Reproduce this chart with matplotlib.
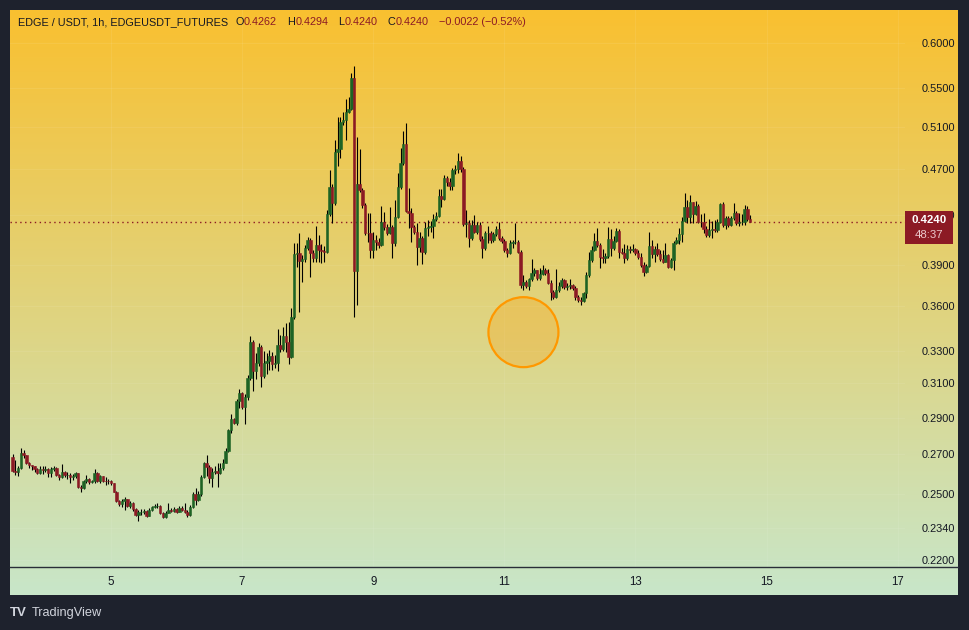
import numpy as np
import pandas as pd
import matplotlib
matplotlib.use("Agg")
import matplotlib.pyplot as plt
import matplotlib.dates as mdates
from matplotlib.colors import LinearSegmentedColormap
from matplotlib.lines import Line2D
from matplotlib.patches import Rectangle, Circle
from matplotlib.ticker import FixedLocator, FuncFormatter, NullLocator
from matplotlib.transforms import IdentityTransform

# EDGE / USDT perpetual, 1h candles, first bar on the 3rd at 12:00
start = "2025-06-03 12:00"
open0 = 0.2688
close = [
    0.2616, 0.2611, 0.2629, 0.2706, 0.2697, 0.2657, 0.2646, 0.2640, 0.2624, 0.2606,
    0.2624, 0.2620, 0.2627, 0.2603, 0.2624, 0.2629, 0.2595, 0.2584, 0.2611, 0.2595,
    0.2595, 0.2584, 0.2587, 0.2603, 0.2534, 0.2529, 0.2562, 0.2574, 0.2557, 0.2562,
    0.2603, 0.2562, 0.2587, 0.2566, 0.2565, 0.2562, 0.2553, 0.2512, 0.2468, 0.2452,
    0.2468, 0.2476, 0.2443, 0.2455, 0.2427, 0.2400, 0.2413, 0.2413, 0.2419, 0.2397,
    0.2424, 0.2437, 0.2443, 0.2443, 0.2408, 0.2390, 0.2411, 0.2424, 0.2421, 0.2427,
    0.2416, 0.2432, 0.2424, 0.2416, 0.2400, 0.2437, 0.2500, 0.2471, 0.2500, 0.2584,
    0.2654, 0.2637, 0.2580, 0.2611, 0.2615, 0.2606, 0.2629, 0.2657, 0.2719, 0.2831,
    0.2891, 0.2869, 0.2995, 0.3042, 0.2962, 0.3020, 0.3132, 0.3361, 0.3177, 0.3226,
    0.3328, 0.3144, 0.3226, 0.3237, 0.3269, 0.3218, 0.3222, 0.3339, 0.3311, 0.3398,
    0.3361, 0.3264, 0.3526, 0.3984, 0.3990, 0.3932, 0.3943, 0.4028, 0.4094, 0.3994,
    0.3951, 0.4054, 0.4015, 0.4010, 0.4002, 0.4306, 0.4540, 0.4396, 0.4859, 0.4882,
    0.5150, 0.5167, 0.5251, 0.5275, 0.5603, 0.3857, 0.4564, 0.4511, 0.4381, 0.4152,
    0.4147, 0.4015, 0.4094, 0.4078, 0.4054, 0.4242, 0.4201, 0.4152, 0.4196, 0.4068,
    0.4284, 0.4535, 0.4756, 0.4932, 0.4333, 0.4316, 0.4201, 0.4160, 0.4041, 0.4110,
    0.4002, 0.4188, 0.4199, 0.4207, 0.4262, 0.4289, 0.4459, 0.4430, 0.4614, 0.4581,
    0.4546, 0.4689, 0.4695, 0.4775, 0.4695, 0.4223, 0.4234, 0.4107, 0.4215, 0.4160,
    0.4215, 0.4099, 0.4028, 0.4147, 0.4147, 0.4094, 0.4142, 0.4180, 0.4112, 0.4088,
    0.4015, 0.3990, 0.4073, 0.4081, 0.4081, 0.4002, 0.3751, 0.3776, 0.3744, 0.3793,
    0.3840, 0.3862, 0.3801, 0.3833, 0.3862, 0.3838, 0.3768, 0.3703, 0.3664, 0.3715,
    0.3744, 0.3788, 0.3735, 0.3744, 0.3751, 0.3727, 0.3668, 0.3644, 0.3639, 0.3691,
    0.3825, 0.3938, 0.4015, 0.4088, 0.4054, 0.3963, 0.3951, 0.3969, 0.4099, 0.4028,
    0.4088, 0.4168, 0.4002, 0.3994, 0.3951, 0.4020, 0.4015, 0.4020, 0.3994, 0.3959,
    0.3900, 0.3850, 0.3892, 0.4046, 0.3984, 0.4023, 0.3984, 0.3943, 0.3925, 0.3976,
    0.3887, 0.3938, 0.4070, 0.4094, 0.4142, 0.4250, 0.4362, 0.4279, 0.4410, 0.4306,
    0.4373, 0.4242, 0.4239, 0.4180, 0.4134, 0.4174, 0.4180, 0.4174, 0.4242, 0.4390,
    0.4215, 0.4270, 0.4215, 0.4270, 0.4316, 0.4229, 0.4235, 0.4239, 0.4345, 0.4262,
    0.4240,
]
high = [
    0.2702, 0.2671, 0.2640, 0.2734, 0.2723, 0.2697, 0.2661, 0.2646, 0.2640, 0.2630,
    0.2640, 0.2640, 0.2640, 0.2630, 0.2635, 0.2640, 0.2635, 0.2600, 0.2651, 0.2615,
    0.2610, 0.2605, 0.2600, 0.2610, 0.2605, 0.2545, 0.2570, 0.2595, 0.2580, 0.2570,
    0.2625, 0.2610, 0.2595, 0.2590, 0.2585, 0.2575, 0.2570, 0.2555, 0.2515, 0.2471,
    0.2476, 0.2486, 0.2476, 0.2466, 0.2461, 0.2433, 0.2424, 0.2429, 0.2429, 0.2424,
    0.2433, 0.2443, 0.2452, 0.2457, 0.2447, 0.2414, 0.2419, 0.2458, 0.2433, 0.2438,
    0.2433, 0.2443, 0.2443, 0.2458, 0.2424, 0.2447, 0.2510, 0.2530, 0.2515, 0.2595,
    0.2661, 0.2697, 0.2646, 0.2630, 0.2640, 0.2656, 0.2656, 0.2676, 0.2734, 0.2837,
    0.2921, 0.2898, 0.3007, 0.3066, 0.3048, 0.3036, 0.3150, 0.3398, 0.3372, 0.3288,
    0.3350, 0.3339, 0.3303, 0.3288, 0.3307, 0.3294, 0.3275, 0.3447, 0.3405, 0.3460,
    0.3487, 0.3493, 0.3586, 0.4073, 0.4068, 0.4147, 0.3976, 0.4054, 0.4120, 0.4110,
    0.4015, 0.4207, 0.4134, 0.4062, 0.4046, 0.4339, 0.4689, 0.4564, 0.4971, 0.5200,
    0.5200, 0.5248, 0.5379, 0.5407, 0.5657, 0.5738, 0.5003, 0.4882, 0.4529, 0.4398,
    0.4311, 0.4316, 0.4160, 0.4134, 0.4110, 0.4373, 0.4325, 0.4223, 0.4367, 0.4215,
    0.4424, 0.4659, 0.4891, 0.5061, 0.5140, 0.4526, 0.4356, 0.4215, 0.4229, 0.4158,
    0.4126, 0.4239, 0.4256, 0.4248, 0.4306, 0.4322, 0.4517, 0.4517, 0.4644, 0.4635,
    0.4617, 0.4707, 0.4735, 0.4844, 0.4819, 0.4717, 0.4339, 0.4256, 0.4256, 0.4297,
    0.4239, 0.4239, 0.4126, 0.4166, 0.4207, 0.4166, 0.4158, 0.4207, 0.4242, 0.4126,
    0.4102, 0.4031, 0.4094, 0.4094, 0.4229, 0.4094, 0.4015, 0.3825, 0.3788, 0.3803,
    0.3943, 0.3877, 0.3862, 0.3877, 0.3900, 0.3877, 0.3867, 0.3788, 0.3715, 0.3867,
    0.3773, 0.3801, 0.3796, 0.3766, 0.3793, 0.3759, 0.3744, 0.3680, 0.3666, 0.3701,
    0.3850, 0.4002, 0.4046, 0.4147, 0.4188, 0.4070, 0.4020, 0.3992, 0.4196, 0.4180,
    0.4126, 0.4191, 0.4183, 0.4031, 0.4062, 0.4054, 0.4046, 0.4062, 0.4031, 0.4015,
    0.3992, 0.3923, 0.3907, 0.4160, 0.4094, 0.4046, 0.4073, 0.4015, 0.4015, 0.4073,
    0.3984, 0.3953, 0.4086, 0.4120, 0.4188, 0.4279, 0.4487, 0.4424, 0.4468, 0.4410,
    0.4418, 0.4390, 0.4306, 0.4316, 0.4207, 0.4262, 0.4250, 0.4256, 0.4264, 0.4396,
    0.4407, 0.4289, 0.4289, 0.4289, 0.4401, 0.4330, 0.4311, 0.4306, 0.4381, 0.4373,
    0.4294,
]
low = [
    0.2610, 0.2595, 0.2590, 0.2625, 0.2681, 0.2651, 0.2630, 0.2620, 0.2610, 0.2600,
    0.2600, 0.2600, 0.2610, 0.2585, 0.2585, 0.2615, 0.2590, 0.2570, 0.2580, 0.2585,
    0.2575, 0.2555, 0.2570, 0.2580, 0.2530, 0.2512, 0.2525, 0.2555, 0.2550, 0.2555,
    0.2555, 0.2560, 0.2555, 0.2560, 0.2545, 0.2550, 0.2545, 0.2510, 0.2462, 0.2443,
    0.2440, 0.2424, 0.2438, 0.2433, 0.2419, 0.2395, 0.2374, 0.2400, 0.2405, 0.2391,
    0.2395, 0.2419, 0.2433, 0.2433, 0.2405, 0.2386, 0.2386, 0.2410, 0.2414, 0.2414,
    0.2410, 0.2414, 0.2419, 0.2410, 0.2390, 0.2395, 0.2433, 0.2447, 0.2466, 0.2491,
    0.2580, 0.2587, 0.2555, 0.2535, 0.2600, 0.2535, 0.2600, 0.2620, 0.2656, 0.2713,
    0.2816, 0.2865, 0.2861, 0.2955, 0.2949, 0.2865, 0.3001, 0.3120, 0.3056, 0.3126,
    0.3206, 0.3076, 0.3132, 0.3156, 0.3181, 0.3181, 0.3193, 0.3177, 0.3296, 0.3301,
    0.3296, 0.3218, 0.3256, 0.3512, 0.3887, 0.3562, 0.3776, 0.3923, 0.4015, 0.3812,
    0.3923, 0.3923, 0.3925, 0.3915, 0.3923, 0.3992, 0.4289, 0.4229, 0.4381, 0.4725,
    0.4797, 0.5117, 0.4971, 0.5238, 0.5268, 0.3528, 0.3609, 0.4494, 0.4356, 0.4134,
    0.4081, 0.3951, 0.3951, 0.4015, 0.4031, 0.4046, 0.4174, 0.4134, 0.4142, 0.3951,
    0.4046, 0.4272, 0.4520, 0.4735, 0.4322, 0.4188, 0.4081, 0.4142, 0.3900, 0.3999,
    0.3907, 0.3984, 0.4126, 0.4158, 0.4108, 0.4248, 0.4279, 0.4367, 0.4424, 0.4546,
    0.4511, 0.4511, 0.4653, 0.4659, 0.4671, 0.4207, 0.4120, 0.4041, 0.4094, 0.4150,
    0.4142, 0.4086, 0.3951, 0.4015, 0.4073, 0.4070, 0.4078, 0.4126, 0.4094, 0.4070,
    0.3999, 0.3963, 0.3984, 0.4031, 0.4062, 0.3992, 0.3729, 0.3715, 0.3729, 0.3715,
    0.3781, 0.3818, 0.3788, 0.3788, 0.3825, 0.3825, 0.3759, 0.3644, 0.3651, 0.3658,
    0.3701, 0.3729, 0.3722, 0.3715, 0.3722, 0.3715, 0.3644, 0.3630, 0.3609, 0.3630,
    0.3658, 0.3810, 0.3923, 0.4007, 0.4038, 0.3875, 0.3913, 0.3913, 0.3953, 0.3969,
    0.4015, 0.4078, 0.3951, 0.3984, 0.3917, 0.3938, 0.3992, 0.3999, 0.3976, 0.3946,
    0.3885, 0.3818, 0.3840, 0.3885, 0.3951, 0.3923, 0.3969, 0.3930, 0.3913, 0.3923,
    0.3877, 0.3877, 0.3862, 0.4062, 0.4062, 0.4078, 0.4239, 0.4229, 0.4229, 0.4234,
    0.4297, 0.4231, 0.4201, 0.4152, 0.4115, 0.4115, 0.4107, 0.4158, 0.4158, 0.4229,
    0.4199, 0.4180, 0.4199, 0.4207, 0.4256, 0.4215, 0.4207, 0.4215, 0.4215, 0.4248,
    0.4240,
]
price_ticks = [0.22, 0.234, 0.25, 0.27, 0.29, 0.31, 0.33, 0.36, 0.39, 0.43, 0.47, 0.51, 0.55, 0.60]
view_start, view_end = "2025-06-03 11:01", "2025-06-17 02:42"
y_range = (0.2170, 0.6397)
symbol = "EDGE / USDT, 1h, EDGEUSDT_FUTURES"
countdown = "48:37"
# hand-drawn highlight circle on the chart
mark_time, mark_price = "2025-06-11 07:00", 0.3423

UP, DOWN, INK = "#1d6324", "#8c1a24", "#131722"
W, H = 969, 630
plt.rcParams["font.family"] = ["Liberation Sans", "DejaVu Sans"]


def box(l, t, r, b):
    return [l / W, 1 - b / H, (r - l) / W, (b - t) / H]


fig = plt.figure(figsize=(W / 100, H / 100), dpi=100, facecolor="#1e222d")

# gradient background of the whole pane (plot + both scales)
bg = fig.add_axes(box(10, 10, 958, 595))
bg.axis("off")
bg.imshow(np.linspace(0, 1, 256)[:, None], aspect="auto", extent=[0, 1, 0, 1],
          cmap=LinearSegmentedColormap.from_list("tv", ["#f9c030", "#c8e6c9"]))
fig.add_artist(Line2D([10 / W, 958 / W], [1 - 567 / H] * 2, color="#2a2e39", lw=1))

ax = fig.add_axes(box(10, 10, 905, 567))
ax.set_facecolor("none")
for s in ax.spines.values():
    s.set_visible(False)

t = mdates.date2num(pd.date_range(start, periods=len(close), freq="h"))
c = np.array(close)
o = np.array([open0] + close[:-1])
hi, lo = np.array(high), np.array(low)
up = c >= o

ax.vlines(t, lo, hi, color="black", lw=0.8, zorder=2)
ax.bar(t, np.abs(c - o), bottom=np.minimum(o, c), width=0.9 / 24,
       color=np.where(up, UP, DOWN), edgecolor=np.where(up, UP, DOWN), linewidth=0.4, zorder=3)

ax.set_yscale("log")
ax.set_ylim(*y_range)
ax.set_xlim(mdates.date2num(pd.Timestamp(view_start)), mdates.date2num(pd.Timestamp(view_end)))
ax.yaxis.set_major_locator(FixedLocator(price_ticks))
ax.yaxis.set_minor_locator(NullLocator())
ax.yaxis.set_major_formatter(FuncFormatter(lambda v, _: f"{v:.4f}"))
ax.yaxis.tick_right()
ax.xaxis.set_major_locator(mdates.DayLocator(bymonthday=range(5, 18, 2)))
ax.xaxis.set_major_formatter(FuncFormatter(lambda v, _: str(mdates.num2date(v).day)))
ax.tick_params(axis="y", length=0, pad=12, labelsize=7.9, labelcolor=INK)
ax.tick_params(axis="x", length=0, pad=6.5, labelsize=8.3, labelcolor=INK)
ax.grid(True, color="white", alpha=0.07, lw=0.8)
ax.axhline(c[-1], color=DOWN, lw=1, ls=(0, (1, 2.5)), zorder=1)

# last-price label on the scale (covers the 0.4300 tick, as in TradingView)
yd = ax.transData.transform((t[-1], c[-1]))[1]
fig.add_artist(Rectangle((905 / W, (yd - 22) / H), 48 / W, 33 / H, transform=fig.transFigure,
                         fc=DOWN, ec="none", zorder=5))
fig.text(929 / W, (yd + 2) / H, f"{c[-1]:.4f}", ha="center", va="center", color="white",
         fontsize=8.2, fontweight="bold", zorder=6)
fig.text(929 / W, (yd - 13) / H, countdown, ha="center", va="center", color="#ecc9cd",
         fontsize=8.2, zorder=6)

cx, cy = ax.transData.transform((mdates.date2num(pd.Timestamp(mark_time)), mark_price))
fig.add_artist(Circle((cx, cy), 35, transform=IdentityTransform(), fc=(1, 0.6, 0, 0.25),
                      ec="#ff9800", lw=1.6, zorder=4))

# legend line: symbol + last bar OHLC, laid out left to right
chg = c[-1] - c[-2]
head = [(symbol, INK, 7), ("O", INK, 0.5), (f"{o[-1]:.4f}", DOWN, 10),
        ("H", INK, 0.5), (f"{hi[-1]:.4f}", DOWN, 10),
        ("L", INK, 0.5), (f"{lo[-1]:.4f}", DOWN, 10),
        ("C", INK, 0.5), (f"{c[-1]:.4f}", DOWN, 10),
        (f"{chg:+.4f} ({chg / c[-2] * 100:+.2f}%)".replace("-", "\u2212"), DOWN, 0)]
renderer = fig.canvas.get_renderer()
xp = 18.0
for s, col, gap in head:
    txt = fig.text(xp / W, 1 - 22 / H, s, ha="left", va="center", color=col, fontsize=7.8)
    xp += txt.get_window_extent(renderer).width + gap

fig.text(10 / W, 1 - 613 / H, "TV", ha="left", va="center", color="#d1d4dc", fontsize=9.5,
         fontweight="bold")
fig.text(32 / W, 1 - 613 / H, "TradingView", ha="left", va="center", color="#d1d4dc", fontsize=9.2)

fig.savefig("out.png", dpi=100, facecolor=fig.get_facecolor())
